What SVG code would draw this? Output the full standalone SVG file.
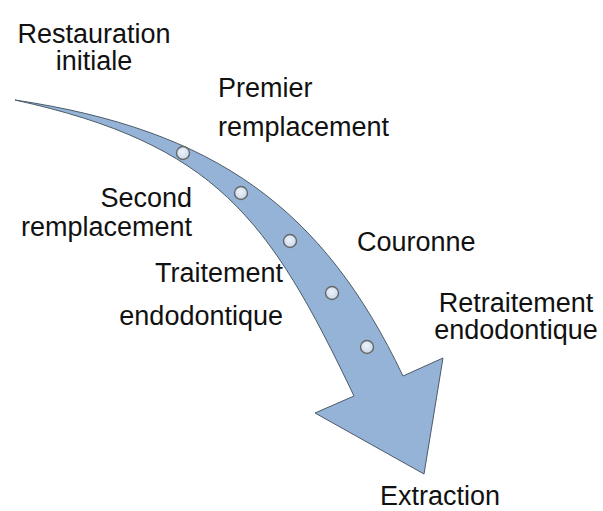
<svg xmlns="http://www.w3.org/2000/svg" width="603" height="511" viewBox="0 0 603 511">
<style>
text{font-family:"Liberation Sans",Arial,sans-serif;font-size:27px;fill:#111}
.dot{fill:url(#dotg);stroke:#666;stroke-width:1.4}
</style>
<defs>
<radialGradient id="dotg" cx="0.45" cy="0.4" r="0.6">
<stop offset="0" stop-color="#eef3fa"/>
<stop offset="1" stop-color="#c9d8ec"/>
</radialGradient>
</defs>
<rect width="603" height="511" fill="#fff"/>
<g id="connectors">
<path id="arrow" d="M15,100 C215,130 323,208 403,376 L443,358 L424,474 L315,413 L354,396 C269,217.5 215,144 15,100 Z" fill="#95b3d7" stroke="#4d5a68" stroke-width="1"/>
</g>
<g id="n1"><circle class="dot" cx="183" cy="153" r="6.5"/><text x="94" y="43" text-anchor="middle">Restauration</text><text x="94" y="70" text-anchor="middle">initiale</text></g>
<g id="n2"><circle class="dot" cx="241" cy="193" r="6.5"/><text x="218" y="97">Premier</text><text x="218" y="136">remplacement</text></g>
<g id="n3"><circle class="dot" cx="290" cy="241" r="6.5"/><text x="192" y="207" text-anchor="end">Second</text><text x="192" y="236" text-anchor="end">remplacement</text></g>
<g id="n4"><circle class="dot" cx="332" cy="293" r="6.5"/><text x="283" y="282" text-anchor="end">Traitement</text><text x="283" y="325" text-anchor="end">endodontique</text></g>
<g id="n5"><circle class="dot" cx="367" cy="347" r="6.5"/><text x="357" y="251">Couronne</text></g>
<g id="n6"><text x="516" y="312" text-anchor="middle">Retraitement</text><text x="516" y="339" text-anchor="middle">endodontique</text></g>
<g id="n7"><text x="440" y="505" text-anchor="middle">Extraction</text></g>
</svg>
